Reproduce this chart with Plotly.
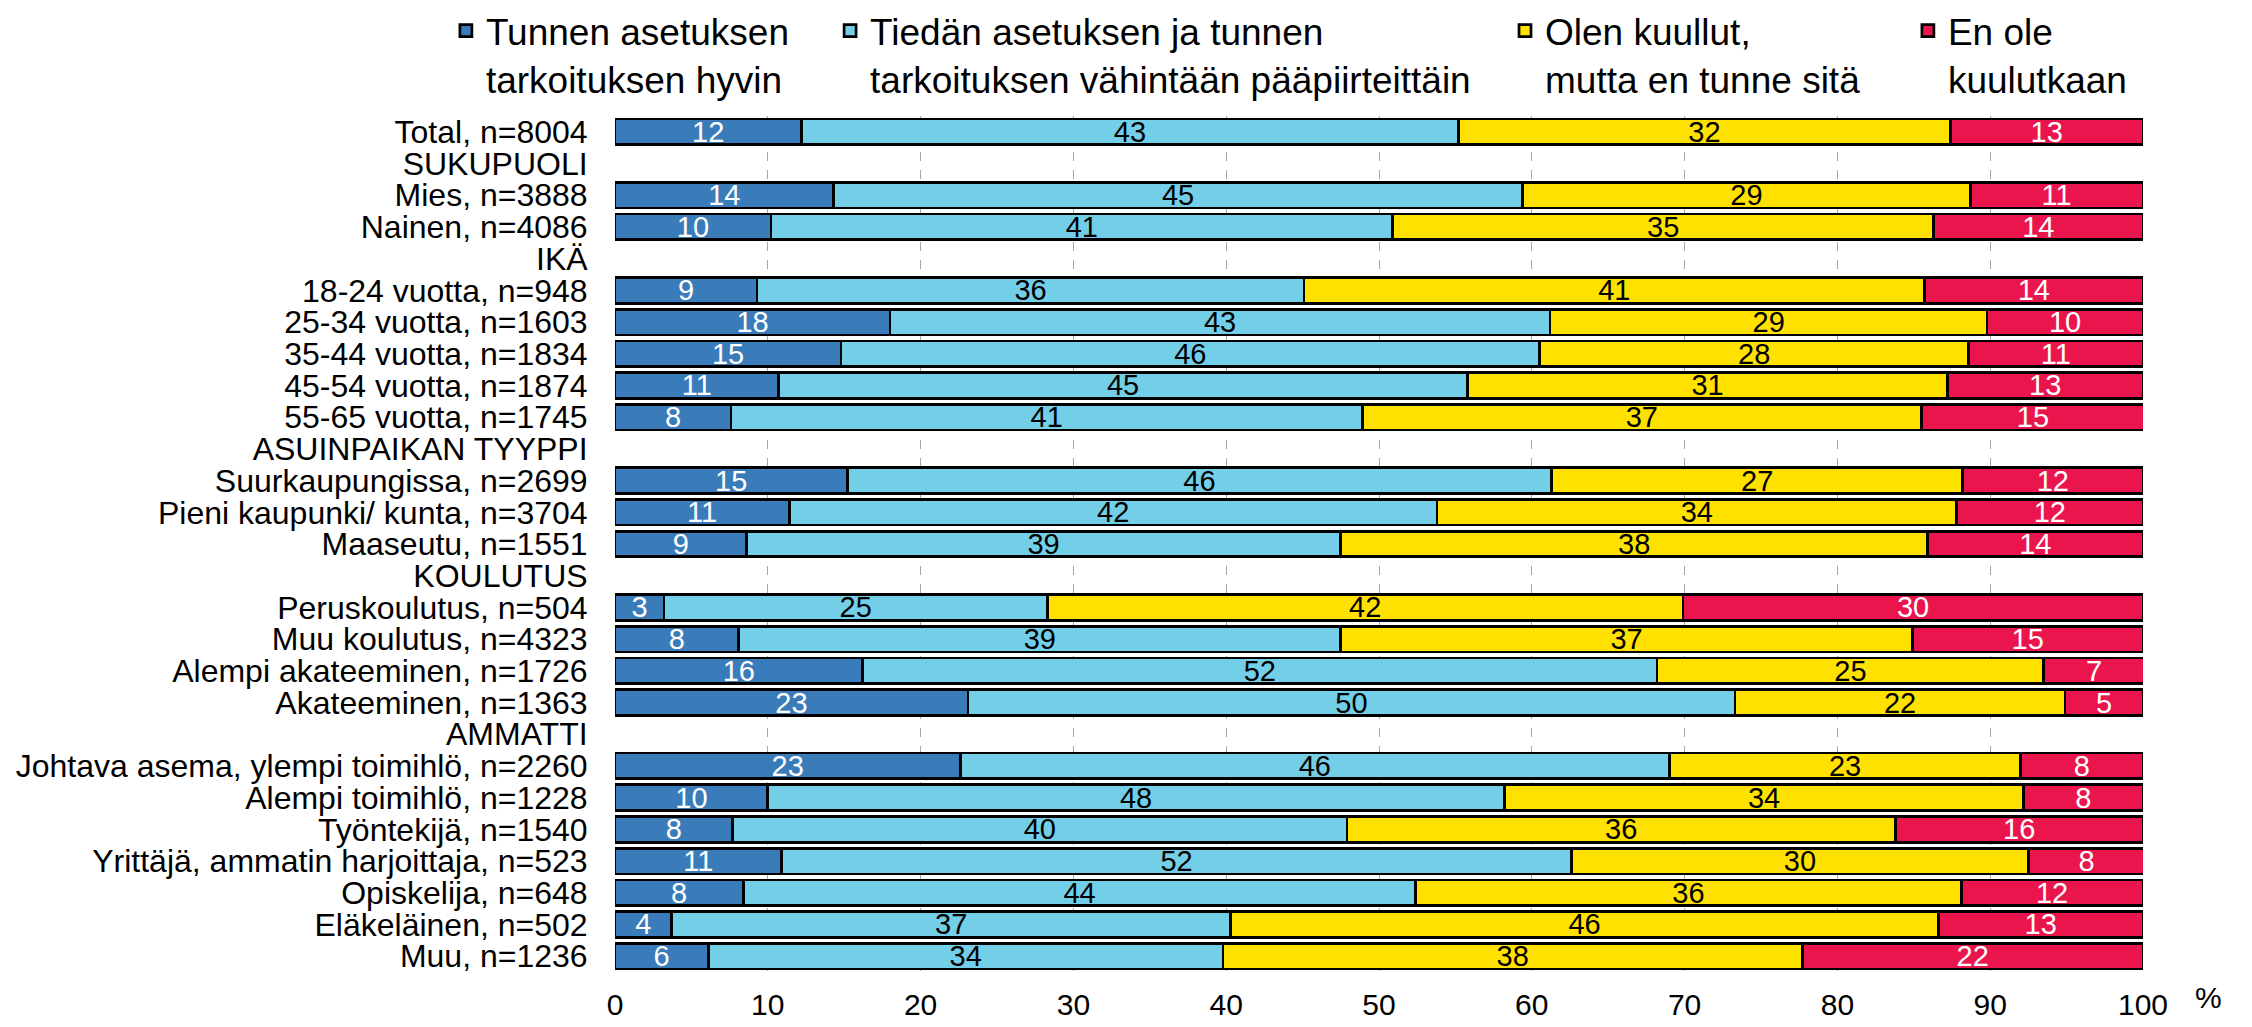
import plotly.graph_objects as go

categories = [
    "Total, n=8004", "SUKUPUOLI", "Mies, n=3888", "Nainen, n=4086", "IKÄ",
    "18-24 vuotta, n=948", "25-34 vuotta, n=1603", "35-44 vuotta, n=1834",
    "45-54 vuotta, n=1874", "55-65 vuotta, n=1745", "ASUINPAIKAN TYYPPI",
    "Suurkaupungissa, n=2699", "Pieni kaupunki/ kunta, n=3704", "Maaseutu, n=1551",
    "KOULUTUS", "Peruskoulutus, n=504", "Muu koulutus, n=4323",
    "Alempi akateeminen, n=1726", "Akateeminen, n=1363", "AMMATTI",
    "Johtava asema, ylempi toimihlö, n=2260", "Alempi toimihlö, n=1228",
    "Työntekijä, n=1540", "Yrittäjä, ammatin harjoittaja, n=523",
    "Opiskelija, n=648", "Eläkeläinen, n=502", "Muu, n=1236",
]

tunnen_hyvin = [12.2, None, 14.3, 10.2, None, 9.3, 18.0, 14.8, 10.7, 7.6, None,
                15.2, 11.4, 8.6, None, 3.2, 8.1, 16.2, 23.1, None,
                22.6, 10.0, 7.7, 10.9, 8.4, 3.7, 6.1]
paapiirteittain = [43.0, None, 45.1, 40.7, None, 35.8, 43.2, 45.7, 45.1, 41.3, None,
                   46.1, 42.4, 38.9, None, 25.1, 39.4, 52.0, 50.2, None,
                   46.4, 48.2, 40.2, 51.7, 44.0, 36.6, 33.7]
kuullut = [32.2, None, 29.3, 35.4, None, 40.6, 28.6, 28.1, 31.4, 36.6, None,
           26.9, 34.0, 38.4, None, 41.6, 37.4, 25.3, 21.6, None,
           23.0, 34.0, 35.9, 29.9, 35.7, 46.3, 37.9]
ei_kuullut = [12.6, None, 11.3, 13.7, None, 14.3, 10.2, 11.4, 12.8, 14.6, None,
              11.8, 12.2, 14.1, None, 30.1, 15.1, 6.6, 5.1, None,
              8.0, 7.8, 16.2, 7.6, 11.9, 13.4, 22.3]

series_names = [
    "Tunnen asetuksen<br>tarkoituksen hyvin",
    "Tiedän asetuksen ja tunnen<br>tarkoituksen vähintään pääpiirteittäin",
    "Olen kuullut,<br>mutta en tunne sitä",
    "En ole<br>kuulutkaan",
]
series_values = [tunnen_hyvin, paapiirteittain, kuullut, ei_kuullut]
colors = ["#3A7BBA", "#73CEE8", "#FFE100", "#EA154C"]
text_colors = ["white", "black", "black", "white"]
x_ticks = [0, 10, 20, 30, 40, 50, 60, 70, 80, 90, 100]

FONT = "Liberation Sans, Arial, sans-serif"

fig = go.Figure()
legend_ids = ["legend", "legend2", "legend3", "legend4"]
for name, vals, col, tcol, lg in zip(series_names, series_values, colors, text_colors, legend_ids):
    fig.add_trace(go.Bar(
        y=categories, x=vals, name=name, orientation="h",
        marker=dict(color=col, line=dict(color="black", width=2.7)),
        texttemplate="%{x:.0f}", textposition="inside", insidetextanchor="middle",
        textangle=0,
        textfont=dict(color=tcol, size=29, family=FONT),
        constraintext="none", legend=lg, hoverinfo="x+name",
    ))

legend_x = [0.1980, 0.3686, 0.6683, 0.8472]
common_legend = dict(
    orientation="h", xref="container", yref="container",
    yanchor="top", y=1.0, xanchor="left",
    font=dict(size=37, family=FONT, color="black"),
    bgcolor="rgba(0,0,0,0)", valign="top", itemclick=False,
)

layout_legends = {}
for lg, lx in zip(legend_ids, legend_x):
    layout_legends[lg] = dict(common_legend, x=lx)

fig.update_layout(
    width=2252, height=1027, autosize=False,
    barmode="stack", bargap=0.19,
    plot_bgcolor="white", paper_bgcolor="white",
    margin=dict(l=615, r=109, t=116, b=55),
    font=dict(family=FONT, color="black", size=30),
    uniformtext=dict(minsize=29, mode="show"),
    showlegend=True,
    **layout_legends,
)
fig.update_xaxes(
    range=[0, 100], tickvals=x_ticks, ticktext=[str(t) for t in x_ticks],
    showgrid=True, gridcolor="#A6A6A6", griddash="dash", gridwidth=1,
    zeroline=False, showline=False, automargin=False,
    ticks="outside", ticklen=6, tickcolor="rgba(0,0,0,0)",
    tickfont=dict(size=30, family=FONT),
)
fig.update_yaxes(
    categoryorder="array", categoryarray=categories, autorange="reversed",
    tickmode="array", tickvals=categories, ticktext=categories,
    showgrid=False, zeroline=False, showline=False, automargin=False,
    ticks="outside", ticklen=20, tickcolor="rgba(0,0,0,0)",
    tickfont=dict(size=32, family=FONT),
)
fig.add_annotation(
    text="%", xref="paper", yref="paper", x=1.053, y=0, yanchor="top",
    yshift=-7, showarrow=False, font=dict(size=30, family=FONT),
)

fig.write_html("out.html", config={"displayModeBar": False},
               post_script="document.body.style.margin='0';")
